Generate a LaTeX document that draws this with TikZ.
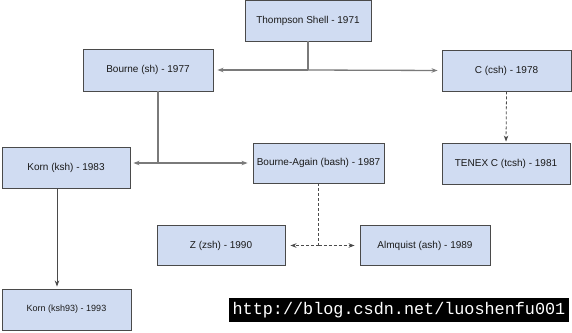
\documentclass[tikz,border=0pt]{standalone}
\usepackage{fontspec}
\setmainfont{Liberation Sans}
\setmonofont{Liberation Mono}
\usetikzlibrary{arrows.meta,positioning,calc}
\definecolor{shell}{HTML}{D0DCF2}
\definecolor{edge}{HTML}{4A4A4A}
\definecolor{wire}{HTML}{7A7A7A}
\definecolor{ink}{HTML}{1A1A1A}
\tikzset{
  >={Stealth[length=6pt,width=4.5pt]},
  every node/.style={font=\fontsize{10}{12}\selectfont,text=ink},
  shellbox/.style={draw=edge,line width=0.9pt,fill=shell,minimum width=129pt,minimum height=41pt,align=center,inner sep=2pt},
  arrow/.style={->,line width=1.3pt,draw=wire},
  line/.style={line width=1.3pt,draw=wire},
  dasharrow/.style={->,line width=0.8pt,draw=edge,dash pattern=on 3pt off 2pt},
  dashline/.style={line width=0.8pt,draw=edge,dash pattern=on 3pt off 2pt},
  mark box/.style={fill=black,text=white,inner sep=1pt,minimum width=340pt,minimum height=24pt,font=\ttfamily\fontsize{16.8}{18}\selectfont},
}

\begin{document}
\begin{tikzpicture}[x=1pt,y=-1pt]
\useasboundingbox (0,0) rectangle (572,332);

\node[shellbox,minimum width=126pt] (thompson) at (308,20.5) {Thompson Shell - 1971};
\node[shellbox,minimum width=130pt,minimum height=42pt] (bourne) at (148,70) {Bourne (sh) - 1977};
\node[shellbox] (csh) at (506.5,70.5) {C (csh) - 1978};
\node[shellbox,minimum width=128pt] (korn) at (66,167.5) {Korn (ksh) - 1983};
\node[shellbox,minimum width=131pt,minimum height=40pt] (bash) at (318.5,163) {Bourne-Again (bash) - 1987};
\node[shellbox,minimum width=128pt] (tcsh) at (506,163.5) {TENEX C (tcsh) - 1981};
\node[shellbox,minimum width=128pt,minimum height=40pt] (zsh) at (221,245.5) {Z (zsh) - 1990};
\node[shellbox,minimum width=130pt,minimum height=40pt] (ash) at (425,245.5) {Almquist (ash) - 1989};
\node[shellbox,font=\fontsize{9}{11}\selectfont] (ksh93) at (66.5,309.5) {Korn (ksh93) - 1993};

\node[mark box] (mark) at (399,310) {http://blog.csdn.net/luoshenfu001};

% Thompson -> sh / csh
\coordinate (tjoin) at (thompson.south |- bourne.east);
\draw[line] (thompson.south) -- (tjoin);
\draw[arrow,shorten >=4pt] (tjoin) -- (bourne.east);
\draw[arrow,shorten >=4pt] (tjoin) -- (csh.west);

% sh -> ksh / bash
\coordinate (bjoin) at ([xshift=10pt]bourne.south |- bash.west);
\draw[line] ([xshift=10pt]bourne.south) -- (bjoin);
\draw[arrow,shorten >=3pt] (bjoin) -- (korn.east |- bjoin);
\draw[arrow,shorten >=5pt] (bjoin) -- (bash.west);

% csh -> tcsh
\draw[dasharrow,shorten >=1pt] (csh.south) -- (tcsh.north);

% ksh -> ksh93
\draw[line,->,line width=0.8pt,draw=edge,shorten >=2pt] ([xshift=-9pt]korn.south) -- ([xshift=-9.5pt]ksh93.north);

% bash -> zsh / ash
\coordinate (zjoin) at (bash.south |- zsh.east);
\draw[dashline] (bash.south) -- (zjoin);
\draw[dasharrow,shorten >=5pt] (zjoin) -- (zsh.east);
\draw[dasharrow,shorten >=5pt] (zjoin) -- (ash.west);

\end{tikzpicture}
\end{document}
